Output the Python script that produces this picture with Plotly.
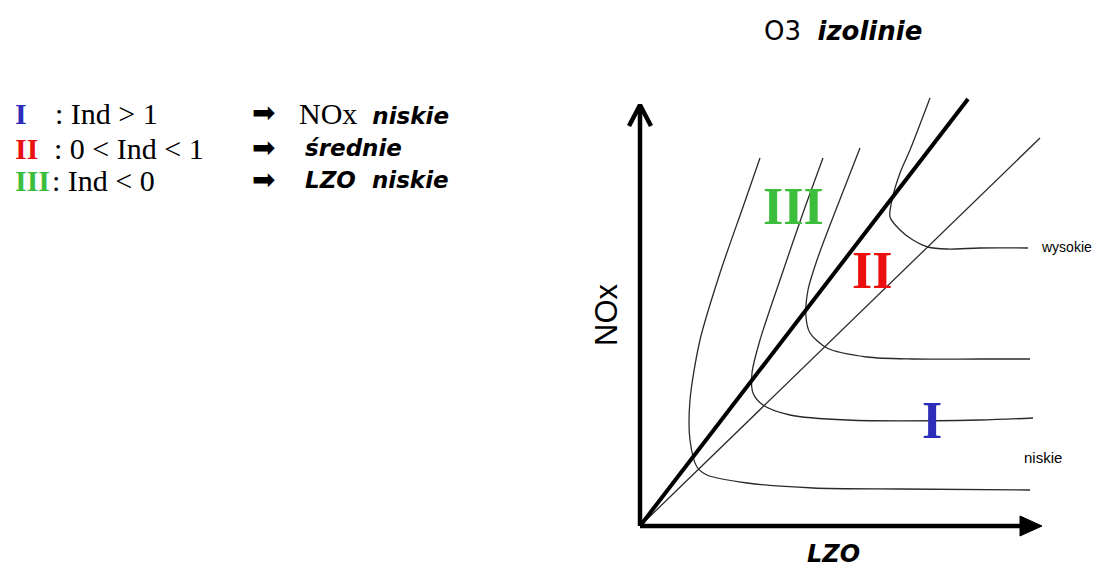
import plotly.graph_objects as go

# ---------------- data (chart units: LZO on x, NOx on y, origin at axes origin) ----
iso1_lzo = [120, 103, 80, 60, 50, 50, 57, 67, 107, 173, 260, 390]
iso1_nox = [368, 319, 253, 186, 126, 86, 59, 51, 43, 38, 37, 36]

iso2_lzo = [183, 163, 140, 120, 112, 113, 123, 150, 207, 340, 393]
iso2_nox = [368, 313, 246, 186, 153, 133, 121, 111, 106, 106, 108]

iso3_lzo = [220, 197, 177, 168, 166, 170, 187, 227, 273, 340, 390]
iso3_nox = [378, 319, 266, 236, 209, 193, 178, 169, 167, 167, 167]

iso4_lzo = [290, 270, 260, 252, 250, 260, 273, 288, 307, 340, 388]
iso4_nox = [428, 376, 353, 326, 309, 296, 286, 279, 277, 278, 278]

ridge_main = [[0, 328], [0, 427]]     # thick ridge line (LZO, NOx)
ridge_second = [[0, 400], [0, 388]]   # thin ridge line

axis_lzo_max = 402
axis_nox_max = 421

zone_labels = ["I", "II", "III"]
zone_colors = ["rgb(45,45,185)", "rgb(235,15,15)", "rgb(60,190,60)"]
zone_lzo = [292, 232, 153]
zone_nox = [106, 256, 320]

legend_conditions = [": Ind > 1", ": 0 < Ind < 1", ": Ind < 0"]
legend_result_main = ["NOx", "", ""]
legend_result_italic = ["niskie", "średnie", "LZO  niskie"]

level_labels = ["wysokie", "niskie"]
level_nox = [279, 69]

# ---------------- figure ----------------
fig = go.Figure()

iso_line = dict(color="#2a2a2a", width=1.3, shape="spline", smoothing=0.8)
for xs, ys in [(iso1_lzo, iso1_nox), (iso2_lzo, iso2_nox),
               (iso3_lzo, iso3_nox), (iso4_lzo, iso4_nox)]:
    fig.add_trace(go.Scatter(x=xs, y=ys, mode="lines", line=iso_line,
                             hoverinfo="skip", showlegend=False))

fig.add_trace(go.Scatter(x=ridge_second[0], y=ridge_second[1], mode="lines",
                         line=dict(color="#2a2a2a", width=1.3),
                         hoverinfo="skip", showlegend=False))
fig.add_trace(go.Scatter(x=ridge_main[0], y=ridge_main[1], mode="lines",
                         line=dict(color="black", width=4),
                         hoverinfo="skip", showlegend=False))

# axes with arrows
head_len = 22
head_half = 10
fig.add_trace(go.Scatter(x=[0, axis_lzo_max - head_len + 2], y=[0, 0], mode="lines",
                         line=dict(color="black", width=4.5),
                         hoverinfo="skip", showlegend=False))
fig.add_trace(go.Scatter(x=[axis_lzo_max - head_len, axis_lzo_max, axis_lzo_max - head_len,
                            axis_lzo_max - head_len],
                         y=[head_half, 0, -head_half, head_half], mode="lines",
                         fill="toself", fillcolor="black", line=dict(color="black", width=1),
                         hoverinfo="skip", showlegend=False))
fig.add_trace(go.Scatter(x=[0, 0], y=[0, axis_nox_max], mode="lines",
                         line=dict(color="black", width=4.5),
                         hoverinfo="skip", showlegend=False))
fig.add_trace(go.Scatter(x=[-11, 0, 11], y=[axis_nox_max - 21, axis_nox_max, axis_nox_max - 21],
                         mode="lines", line=dict(color="black", width=4.5),
                         hoverinfo="skip", showlegend=False))

ann = []
SANS = "DejaVu Sans"
SERIF = "Liberation Serif"
# title
ann.append(dict(x=203, y=495, text="O3  <b><i>izolinie</i></b>",
                font=dict(family=SANS, size=26, color="black")))
# zone numerals
for lab, col, zx, zy in zip(zone_labels, zone_colors, zone_lzo, zone_nox):
    ann.append(dict(x=zx, y=zy, text="<b>" + lab + "</b>",
                    font=dict(family=SERIF, size=52, color=col)))
# axis titles
ann.append(dict(x=-34, y=211, text="NOx", textangle=-90,
                font=dict(family="Liberation Sans", size=31, color="black")))
ann.append(dict(x=193, y=-28, text="<b><i>LZO</i></b>",
                font=dict(family=SANS, size=24, color="black")))
# level labels
ann.append(dict(x=399, y=level_nox[0], text=level_labels[0], xanchor="left",
                font=dict(family="Liberation Sans", size=14, color="black")))
ann.append(dict(x=382, y=level_nox[1], text=level_labels[1], xanchor="left",
                font=dict(family="Liberation Sans", size=15, color="black")))

# legend block (left)
row_nox = [413, 378, 346]
cond_x = [-587, -588, -590]
res_x = [-343, -337, -337]
for i in range(3):
    ann.append(dict(x=-627, y=row_nox[i], text="<b>" + zone_labels[i] + "</b>",
                    xanchor="left", font=dict(family=SERIF, size=30, color=zone_colors[i])))
    ann.append(dict(x=cond_x[i], y=row_nox[i], text=legend_conditions[i], xanchor="left",
                    font=dict(family=SERIF, size=30, color="black")))
    ann.append(dict(x=-390, y=row_nox[i] + 1, text="➡", xanchor="left",
                    font=dict(family=SANS, size=28, color="black")))
    if legend_result_main[i]:
        txt = (legend_result_main[i] +
               "  <span style='font-family:DejaVu Sans;font-size:23px'><b><i>" +
               legend_result_italic[i] + "</i></b></span>")
    else:
        txt = "<b><i>" + legend_result_italic[i] + "</i></b>"
    fam = SERIF if legend_result_main[i] else SANS
    size = 30 if legend_result_main[i] else 23
    ann.append(dict(x=res_x[i], y=row_nox[i], text=txt, xanchor="left",
                    font=dict(family=fam, size=size, color="black")))

for a in ann:
    a.setdefault("xanchor", "center")
    a.setdefault("yanchor", "middle")
    a["showarrow"] = False
    a["xref"] = "x"
    a["yref"] = "y"

fig.update_layout(
    width=1102, height=570,
    margin=dict(l=0, r=0, t=0, b=0),
    paper_bgcolor="white", plot_bgcolor="white",
    xaxis=dict(range=[-640, 462], visible=False, fixedrange=True),
    yaxis=dict(range=[-44, 526], visible=False, fixedrange=True),
    annotations=ann,
    showlegend=False,
)

fig.write_html("out.html", config={"displayModeBar": False},
               post_script="document.body.style.margin='0';document.body.style.overflow='hidden';")
